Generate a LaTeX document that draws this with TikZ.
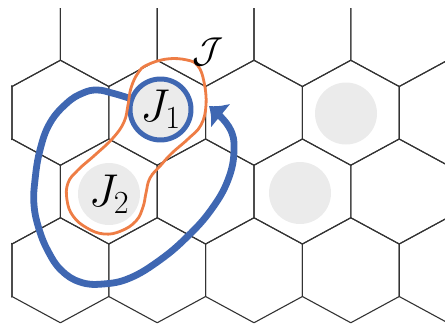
\RequirePackage{fix-cm}
\documentclass[tikz,border=0pt]{standalone}
\usepackage{xcolor}
\usepackage{tikz}
\usetikzlibrary{arrows.meta}
\definecolor{hxBlue}{HTML}{3F67B2}
\definecolor{hxOrange}{HTML}{EE7D45}
\definecolor{hxEdge}{HTML}{333333}
\definecolor{hxDisk}{HTML}{EBEBEB}
\tikzset{
  hx diagram/.style={x=1pt, y=-1pt, line cap=round, line join=round},
  hx edge/.style={draw=hxEdge, line width=1.1pt},
  hx site/.style={circle, fill=hxDisk, inner sep=0pt, minimum size=62pt,
    font=\fontsize{46}{50}\selectfont},
  hx marked/.style={hx site, draw=hxBlue, line width=5pt, minimum size=61pt},
  hx loop/.style={draw=hxBlue, line width=6.8pt,
    -{Latex[length=15pt,width=32pt]}},
  hx cluster/.style={draw=hxOrange, line width=2.8pt},
  hx label/.style={font=\fontsize{36}{40}\selectfont, inner sep=0pt}
}

\begin{document}
\begin{tikzpicture}[hx diagram]
\useasboundingbox (0,0) rectangle (445,327);
\begin{scope}
\clip (11,8) rectangle (446,330);
\foreach \r in {0,...,3}{
  \foreach \c in {-1,...,5}{
    \pgfmathsetmacro{\cx}{12+96.8*\c+48.4*mod(\r,2)}
    \pgfmathsetmacro{\cy}{34+78.75*\r}
    \draw[hx edge] (\cx,\cy-52.5) -- ++(48.4,26.25) -- ++(0,52.5)
      -- ++(-48.4,26.25) -- ++(-48.4,-26.25) -- ++(0,-52.5) -- cycle;
  }
}
\end{scope}
\node[hx site] (siteA) at (346,113.5) {};
\node[hx site] (siteB) at (300,193) {};
\node[hx site] (J2) at (109,194) {$J_2$};
\node[hx marked] (J1) at (160.5,109.5) {$J_1$};
\coordinate (loopTip) at (209,106);
\draw[hx loop] plot[smooth,tension=0.7] coordinates {(J1.160) (112,93)
  (97,90) (83,93) (67,103) (50,123) (40,150) (35,180) (34,205) (39,229)
  (48,251) (61,270) (80,282) (103,284) (130,278) (160,260) (187,237)
  (211,210) (228,180) (234,150) (229,127) (loopTip)};
\draw[hx cluster] plot[smooth cycle,tension=0.7] coordinates {(147,65)
  (167,59) (187,60) (198,66) (204,82) (206,105) (201,125) (188,139)
  (172,153) (161,165) (150,178) (146,193) (143,207) (136,221) (121,231)
  (104,234) (87,228) (73,216) (67,200) (68,183) (78,170) (95,155)
  (113,138) (124,122) (128,105) (131,88) (138,73)};
\node[hx label] (calJ) at (208,52) {$\mathcal{J}$};
\end{tikzpicture}
\end{document}
